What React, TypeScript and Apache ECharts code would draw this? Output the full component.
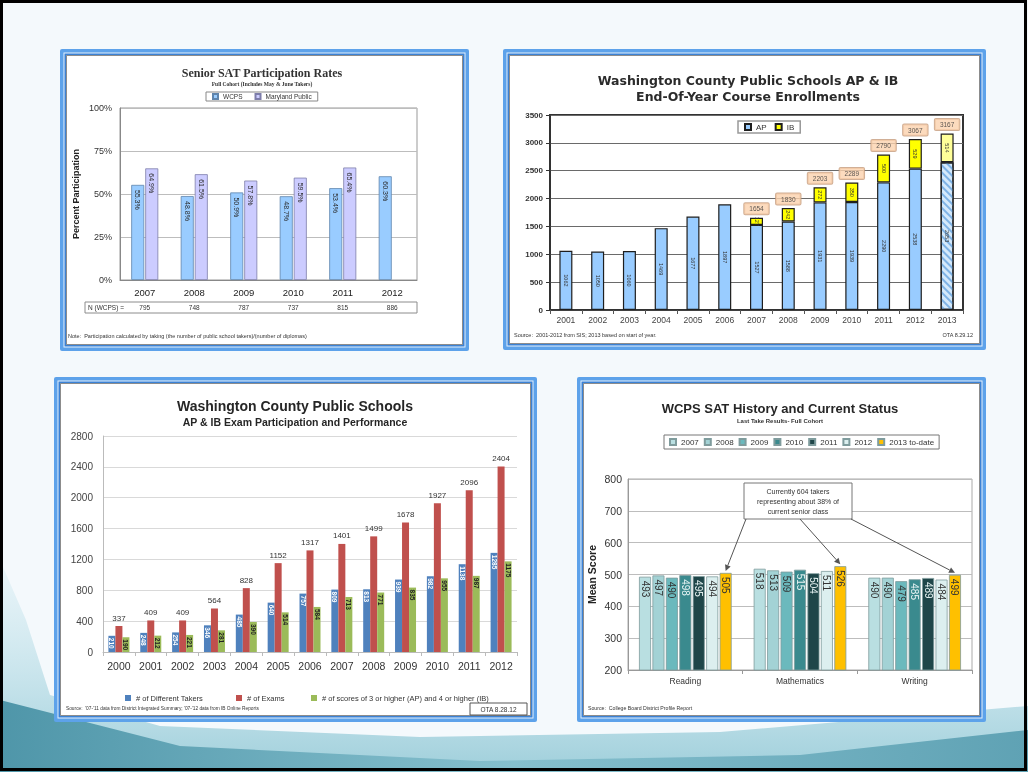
import React, { useEffect, useRef } from "react";
import * as echarts from "echarts";

// ---------- Chart 1: Senior SAT Participation Rates ----------
const satYears = ["2007", "2008", "2009", "2010", "2011", "2012"];
const wcpsRate = [55.3, 48.8, 50.9, 48.7, 53.4, 60.3];
const mdRate = [64.9, 61.5, 57.8, 59.5, 65.4, null];
const nWcps = ["795", "748", "787", "737", "815", "886"];

// ---------- Chart 2: AP & IB End-Of-Year Course Enrollments ----------
const enrYears = ["2001", "2002", "2003", "2004", "2005", "2006", "2007", "2008", "2009", "2010", "2011", "2012", "2013"];
const apEnr = [1062, 1050, 1060, 1469, 1677, 1897, 1527, 1588, 1931, 1939, 2290, 2538, 2653];
const ibEnr = [null, null, null, null, null, null, 127, 242, 272, 350, 500, 529, 514];
const totalEnr = [null, null, null, null, null, null, 1654, 1830, 2203, 2289, 2790, 3067, 3167];

// ---------- Chart 3: AP & IB Exam Participation and Performance ----------
const examYears = ["2000", "2001", "2002", "2003", "2004", "2005", "2006", "2007", "2008", "2009", "2010", "2011", "2012"];
const takers = [210, 248, 254, 346, 485, 640, 757, 809, 813, 939, 982, 1138, 1285];
const exams = [337, 409, 409, 564, 828, 1152, 1317, 1401, 1499, 1678, 1927, 2096, 2404];
const scores = [190, 212, 221, 281, 390, 514, 584, 713, 771, 835, 955, 987, 1175];

// ---------- Chart 4: WCPS SAT History and Current Status ----------
const subjects = ["Reading", "Mathematics", "Writing"];
const satSeriesNames = ["2007", "2008", "2009", "2010", "2011", "2012", "2013 to-date"];
const sat2007 = [493, 518, 490];
const sat2008 = [497, 513, 490];
const sat2009 = [490, 509, 479];
const sat2010 = [498, 515, 485];
const sat2011 = [495, 504, 489];
const sat2012 = [494, 511, 484];
const sat2013 = [505, 526, 499];
const satColors = ["#b9dfe1", "#a3d2d5", "#6bb9bd", "#3a8a8e", "#1f4649", "#dcefef", "#ffc000"];
const satLabelColors = ["#333", "#333", "#333", "#e8f4f4", "#e8f4f4", "#333", "#333"];

const FONT = '"Liberation Sans", Arial, sans-serif';
const SERIF = '"Liberation Serif", "Times New Roman", serif';
const VERD = '"DejaVu Sans", Verdana, sans-serif';

const plain = (v: number) => String(v);

function txt(text: string, x: number, y: number, size: number, o: any = {}) {
  const align = o.align || "center";
  return {
    type: "text",
    z: 50,
    style: {
      text,
      x,
      y,
      fontSize: size,
      fontFamily: o.family || FONT,
      fontWeight: o.weight || "normal",
      fill: o.color || "#222",
      align,
      textAlign: align,
      verticalAlign: "middle",
      textVerticalAlign: "middle",
    },
  };
}

function panel(x: number, y: number, w: number, h: number) {
  return [
    { type: "rect", z: -9, shape: { x, y, width: w, height: h, r: 2 }, style: { fill: "#5da2ea" } },
    { type: "rect", z: -8, shape: { x: x + 3.5, y: y + 3.5, width: w - 7, height: h - 7 }, style: { fill: "#e6f1fc" } },
    { type: "rect", z: -7, shape: { x: x + 4.5, y: y + 4.5, width: w - 9, height: h - 9 }, style: { fill: "#3b82d5" } },
    {
      type: "rect",
      z: -6,
      shape: { x: x + 6.5, y: y + 6.5, width: w - 13, height: h - 13 },
      style: { fill: "#ffffff", stroke: "#8c8c8c", lineWidth: 1 },
    },
  ];
}

function arrow(x1: number, y1: number, x2: number, y2: number) {
  const a = Math.atan2(y2 - y1, x2 - x1);
  const L = 6;
  const W = 3;
  const bx = x2 - L * Math.cos(a);
  const by = y2 - L * Math.sin(a);
  const px = -Math.sin(a) * W;
  const py = Math.cos(a) * W;
  return [
    { type: "line", z: 40, shape: { x1, y1, x2: bx, y2: by }, style: { stroke: "#555", lineWidth: 1 } },
    {
      type: "polygon",
      z: 40,
      shape: { points: [[x2, y2], [bx + px, by + py], [bx - px, by - py]] },
      style: { fill: "#555" },
    },
  ];
}

function baseGraphics() {
  const g: any[] = [];
  // slide background
  g.push({ type: "rect", z: -20, shape: { x: 0, y: 0, width: 1028, height: 772 }, style: { fill: "#f4f9fc" } });
  g.push({
    type: "polygon",
    z: -19,
    shape: {
      points: [[0, 560], [26, 620], [50, 695], [160, 726], [420, 737], [720, 732], [1028, 706], [1028, 772], [0, 772]],
    },
    style: {
      fill: new echarts.graphic.LinearGradient(0, 0, 0, 1, [
        { offset: 0, color: "rgba(200,230,238,0.25)" },
        { offset: 1, color: "#9fcfdb" },
      ]),
    },
  });
  g.push({
    type: "polygon",
    z: -18,
    shape: {
      points: [[0, 700], [180, 746], [480, 761], [800, 755], [1028, 730], [1028, 772], [0, 772]],
    },
    style: {
      fill: new echarts.graphic.LinearGradient(0, 0, 1, 0, [
        { offset: 0, color: "#4f96a9" },
        { offset: 0.5, color: "#86c0ce" },
        { offset: 1, color: "#5fa2b4" },
      ]),
    },
  });
  // panels
  g.push(...panel(60, 49, 409, 302));
  g.push(...panel(503, 49, 483, 301));
  g.push(...panel(54, 377, 483, 345));
  g.push(...panel(577, 377, 409, 345));

  // chart 1 texts
  g.push(txt("Senior SAT Participation Rates", 262, 73, 12, { family: SERIF, weight: "bold", color: "#333" }));
  g.push(txt("Full Cohort (Includes May & June Takers)", 262, 83.5, 5.5, { family: SERIF, weight: "bold", color: "#333" }));
  g.push({
    type: "rect",
    z: -5,
    shape: { x: 85, y: 302, width: 332, height: 11 },
    style: { fill: "#fff", stroke: "#8c8c8c", lineWidth: 1 },
  });
  g.push(txt("N (WCPS) =", 88, 307.5, 6.5, { align: "left", color: "#333" }));
  g.push(
    txt("Note:  Participation calculated by taking (the number of public school takers)/(number of diplomas)", 68, 336, 5.5, {
      align: "left",
      color: "#333",
    })
  );

  // chart 2 texts
  g.push(txt("Washington County Public Schools AP & IB", 748, 80, 12.5, { family: VERD, weight: "bold", color: "#2b2b2b" }));
  g.push(txt("End-Of-Year Course Enrollments", 748, 96, 12.5, { family: VERD, weight: "bold", color: "#2b2b2b" }));
  g.push(txt("Source:  2001-2012 from SIS; 2013 based on start of year.", 514, 335, 5.5, { align: "left", color: "#333" }));
  g.push(txt("OTA 8.29.12", 973, 335, 5.5, { align: "right", color: "#333" }));

  // chart 3 texts
  g.push(txt("Washington County Public Schools", 295, 406, 14, { weight: "bold", color: "#262626" }));
  g.push(txt("AP & IB Exam Participation and Performance", 295, 422, 10.5, { weight: "bold", color: "#262626" }));
  g.push(
    txt("Source:  '07-'11 data from District Integrated Summary; '07-'12 data from IB Online Reports", 66, 708, 4.8, {
      align: "left",
      color: "#333",
    })
  );
  g.push({
    type: "rect",
    z: 30,
    shape: { x: 470, y: 703, width: 57, height: 12 },
    style: { fill: "#fff", stroke: "#555", lineWidth: 1 },
  });
  g.push(txt("OTA 8.28.12", 498.5, 709, 6.5, { color: "#333" }));

  // chart 4 texts
  g.push(txt("WCPS SAT History and Current Status", 780, 408, 13, { weight: "bold", color: "#262626", family: '"Liberation Sans Narrow", "Liberation Sans", Arial' }));
  g.push(txt("Last Take Results- Full Cohort", 780, 421, 6, { weight: "bold", color: "#333" }));
  g.push({
    type: "rect",
    z: 30,
    shape: { x: 744, y: 483, width: 108, height: 36 },
    style: { fill: "#fff", stroke: "#777", lineWidth: 1 },
  });
  g.push(txt("Currently 604 takers", 798, 491, 7, { color: "#333" }));
  g.push(txt("representing about 38% of", 798, 501, 7, { color: "#333" }));
  g.push(txt("current senior class", 798, 511, 7, { color: "#333" }));
  g.push(txt("Source:  College Board District Profile Report", 588, 708, 5.2, { align: "left", color: "#333" }));

  // black frame
  g.push({
    type: "rect",
    z: 100,
    shape: { x: 1.5, y: 1.5, width: 1024, height: 768 },
    style: { fill: "none", stroke: "#000", lineWidth: 3 },
  });
  return g;
}

function buildOption() {
  const axisFont = { fontFamily: FONT };
  const satData = [sat2007, sat2008, sat2009, sat2010, sat2011, sat2012, sat2013];

  const series: any[] = [
    // chart 1
    {
      type: "bar",
      name: "WCPS",
      xAxisIndex: 0,
      yAxisIndex: 0,
      data: wcpsRate,
      barWidth: 13,
      barGap: "8%",
      itemStyle: { color: "#99ccff", borderColor: "#5f85ad", borderWidth: 0.8 },
      label: {
        show: true,
        position: "insideTop",
        rotate: -90,
        align: "left",
        verticalAlign: "middle",
        distance: 5,
        fontSize: 7,
        color: "#2a2a2a",
        formatter: (p: any) => (p.value == null ? "" : Number(p.value).toFixed(1) + "%"),
      },
    },
    {
      type: "bar",
      name: "Maryland Public",
      xAxisIndex: 0,
      yAxisIndex: 0,
      data: mdRate,
      barWidth: 13,
      barGap: "8%",
      itemStyle: { color: "#ccccff", borderColor: "#7d7daa", borderWidth: 0.8 },
      label: {
        show: true,
        position: "insideTop",
        rotate: -90,
        align: "left",
        verticalAlign: "middle",
        distance: 5,
        fontSize: 7,
        color: "#2a2a2a",
        formatter: (p: any) => (p.value == null ? "" : Number(p.value).toFixed(1) + "%"),
      },
    },
    // chart 2
    {
      type: "bar",
      name: "AP",
      stack: "enr",
      xAxisIndex: 2,
      yAxisIndex: 1,
      barWidth: 13,
      data: apEnr.map((v, i) =>
        i === apEnr.length - 1
          ? {
              value: v,
              itemStyle: {
                color: "#d4e9fb",
                decal: {
                  symbol: "rect",
                  symbolSize: 1,
                  dashArrayX: [1, 0],
                  dashArrayY: [1.5, 2.5],
                  rotation: Math.PI / 4,
                  color: "#7fb3e6",
                },
              },
            }
          : v
      ),
      itemStyle: { color: "#99ccff", borderColor: "#1e1e1e", borderWidth: 1.2 },
      label: {
        show: true,
        position: "inside",
        rotate: -90,
        align: "center",
        verticalAlign: "middle",
        fontSize: 5.5,
        color: "#333",
      },
    },
    {
      type: "bar",
      name: "IB",
      stack: "enr",
      xAxisIndex: 2,
      yAxisIndex: 1,
      barWidth: 13,
      data: ibEnr.map((v, i) => (i === ibEnr.length - 1 && v != null ? { value: v, itemStyle: { color: "#ffff99" } } : v)),
      itemStyle: { color: "#ffff00", borderColor: "#1e1e1e", borderWidth: 1.2 },
      label: {
        show: true,
        position: "inside",
        rotate: -90,
        align: "center",
        verticalAlign: "middle",
        fontSize: 5.5,
        color: "#333",
      },
    },
    {
      type: "scatter",
      name: "Total",
      xAxisIndex: 2,
      yAxisIndex: 1,
      data: totalEnr,
      symbolSize: 1,
      itemStyle: { color: "transparent" },
      z: 6,
      label: {
        show: true,
        position: "top",
        distance: 3,
        fontSize: 6.5,
        color: "#333",
        backgroundColor: "#fbd2ae",
        borderColor: "#c59b7c",
        borderWidth: 1,
        borderRadius: 1,
        padding: [2, 5],
      },
    },
    // chart 3
    {
      type: "bar",
      name: "# of Different Takers",
      xAxisIndex: 3,
      yAxisIndex: 2,
      data: takers,
      barWidth: 7,
      barGap: "0%",
      itemStyle: { color: "#4f81bd" },
      label: {
        show: true,
        position: "insideTop",
        rotate: -90,
        align: "left",
        verticalAlign: "middle",
        distance: 2,
        fontSize: 6.5,
        fontWeight: "bold",
        color: "#ffffff",
      },
    },
    {
      type: "bar",
      name: "# of Exams",
      xAxisIndex: 3,
      yAxisIndex: 2,
      data: exams,
      barWidth: 7,
      barGap: "0%",
      itemStyle: { color: "#c0504d" },
      label: { show: true, position: "top", distance: 4, fontSize: 8, color: "#333" },
    },
    {
      type: "bar",
      name: "# of scores of 3 or higher (AP) and 4 or higher (IB)",
      xAxisIndex: 3,
      yAxisIndex: 2,
      data: scores,
      barWidth: 7,
      barGap: "0%",
      itemStyle: { color: "#9bbb59" },
      label: {
        show: true,
        position: "insideTop",
        rotate: -90,
        align: "left",
        verticalAlign: "middle",
        distance: 2,
        fontSize: 6.5,
        fontWeight: "bold",
        color: "#222",
      },
    },
  ];

  satSeriesNames.forEach((nm, k) => {
    series.push({
      type: "bar",
      name: nm,
      xAxisIndex: 4,
      yAxisIndex: 3,
      data: satData[k],
      barWidth: 12,
      barGap: "12%",
      itemStyle: { color: satColors[k], borderColor: "#7f9c9d", borderWidth: 0.8 },
      label: {
        show: true,
        position: "insideTop",
        rotate: -90,
        align: "left",
        verticalAlign: "middle",
        distance: 4,
        fontSize: 10,
        color: satLabelColors[k],
      },
    });
  });

  const legendBase = {
    icon: "rect",
    itemWidth: 6,
    itemHeight: 6,
    textStyle: { fontFamily: FONT, color: "#333" },
  };

  return {
    animation: false,
    textStyle: { fontFamily: FONT },
    grid: [
      { left: 120, top: 108, width: 297, height: 172, show: true, borderColor: "#999", borderWidth: 1 },
      { left: 550, top: 115, width: 413, height: 195, show: true, borderColor: "#333", borderWidth: 2 },
      { left: 103, top: 436, width: 414, height: 216 },
      { left: 628, top: 479, width: 344, height: 191, show: true, borderColor: "#aaa", borderWidth: 1 },
    ],
    xAxis: [
      {
        gridIndex: 0,
        type: "category",
        data: satYears,
        axisLine: { lineStyle: { color: "#888" } },
        axisTick: { show: false },
        axisLabel: { ...axisFont, fontSize: 9.5, color: "#222", margin: 7 },
      },
      {
        gridIndex: 0,
        type: "category",
        data: nWcps,
        position: "bottom",
        offset: 22,
        axisLine: { show: false },
        axisTick: { show: false },
        axisLabel: { ...axisFont, fontSize: 6.5, color: "#333", margin: 2 },
      },
      {
        gridIndex: 1,
        type: "category",
        data: enrYears,
        axisLine: { lineStyle: { color: "#333", width: 1.5 } },
        axisTick: { show: true, length: 4, lineStyle: { color: "#555" } },
        axisLabel: { ...axisFont, fontSize: 8.5, color: "#444", margin: 5 },
      },
      {
        gridIndex: 2,
        type: "category",
        data: examYears,
        axisLine: { lineStyle: { color: "#bbb" } },
        axisTick: { show: true, length: 4, lineStyle: { color: "#bbb" } },
        axisLabel: { ...axisFont, fontSize: 10.5, color: "#333", margin: 8 },
      },
      {
        gridIndex: 3,
        type: "category",
        data: subjects,
        axisLine: { lineStyle: { color: "#999" } },
        axisTick: { show: true, length: 4, lineStyle: { color: "#999" } },
        axisLabel: { ...axisFont, fontSize: 8.5, color: "#333", margin: 6 },
      },
    ],
    yAxis: [
      {
        gridIndex: 0,
        type: "value",
        min: 0,
        max: 100,
        interval: 25,
        axisLabel: { ...axisFont, formatter: "{value}%", fontSize: 9, color: "#333", margin: 8 },
        axisLine: { show: true, lineStyle: { color: "#888" } },
        splitLine: { lineStyle: { color: "#bdbdbd" } },
        name: "Percent Participation",
        nameLocation: "middle",
        nameGap: 40,
        nameTextStyle: { fontFamily: FONT, fontSize: 9, fontWeight: "bold", color: "#222" },
      },
      {
        gridIndex: 1,
        type: "value",
        min: 0,
        max: 3500,
        interval: 500,
        axisLabel: { ...axisFont, formatter: plain, fontSize: 8, fontWeight: "bold", color: "#333", margin: 7 },
        axisLine: { show: true, lineStyle: { color: "#333", width: 1.5 } },
        axisTick: { show: true, length: 4, lineStyle: { color: "#333" } },
        splitLine: { lineStyle: { color: "#6a6a6a", width: 1.2 } },
      },
      {
        gridIndex: 2,
        type: "value",
        min: 0,
        max: 2800,
        interval: 400,
        axisLabel: { ...axisFont, formatter: plain, fontSize: 10, color: "#444", margin: 10 },
        axisLine: { show: true, lineStyle: { color: "#bbb" } },
        splitLine: { lineStyle: { color: "#d9d9d9" } },
      },
      {
        gridIndex: 3,
        type: "value",
        min: 200,
        max: 800,
        interval: 100,
        axisLabel: { ...axisFont, formatter: plain, fontSize: 10.5, color: "#333", margin: 6 },
        axisLine: { show: true, lineStyle: { color: "#999" } },
        splitLine: { lineStyle: { color: "#bdbdbd" } },
        name: "Mean Score",
        nameLocation: "middle",
        nameGap: 31,
        nameTextStyle: { fontFamily: FONT, fontSize: 10.5, fontWeight: "bold", color: "#222" },
      },
    ],
    legend: [
      {
        ...legendBase,
        data: ["WCPS", "Maryland Public"],
        left: 206,
        top: 92,
        itemWidth: 5,
        itemHeight: 5,
        itemGap: 12,
        padding: [1, 6],
        borderColor: "#888",
        borderWidth: 1,
        textStyle: { fontFamily: FONT, color: "#333", fontSize: 6.5 },
      },
      {
        ...legendBase,
        data: ["AP", "IB"],
        left: 738,
        top: 121,
        itemGap: 8,
        padding: [2, 6],
        borderColor: "#999",
        borderWidth: 1.5,
        backgroundColor: "#fff",
        textStyle: { fontFamily: FONT, color: "#333", fontSize: 8 },
      },
      {
        ...legendBase,
        data: ["# of Different Takers"],
        left: 120,
        top: 689,
        textStyle: { fontFamily: FONT, color: "#333", fontSize: 7.5 },
      },
      {
        ...legendBase,
        data: ["# of Exams"],
        left: 231,
        top: 689,
        textStyle: { fontFamily: FONT, color: "#333", fontSize: 7.5 },
      },
      {
        ...legendBase,
        data: ["# of scores of 3 or higher (AP) and 4 or higher (IB)"],
        left: 306,
        top: 689,
        textStyle: { fontFamily: FONT, color: "#333", fontSize: 7.5 },
      },
      {
        ...legendBase,
        data: satSeriesNames,
        left: 664,
        top: 435,
        itemGap: 5,
        padding: [3, 5],
        borderColor: "#777",
        borderWidth: 1,
        backgroundColor: "#fff",
        textStyle: { fontFamily: FONT, color: "#333", fontSize: 8 },
      },
    ],
    series,
  };
}

export default function App() {
  const ref = useRef<HTMLDivElement>(null);
  useEffect(() => {
    if (!ref.current) return;
    const chart = echarts.init(ref.current, undefined, { renderer: "svg" });
    chart.setOption(buildOption() as any);

    // annotation arrows pointing at the "2013 to-date" bars
    const g = baseGraphics();
    const nBars = satSeriesNames.length;
    const bw = 12;
    const gap = bw * 0.12;
    const offset = (nBars - 1 - (nBars - 1) / 2) * (bw + gap);
    const starts = [
      [746, 519],
      [800, 519],
      [851, 519],
    ];
    subjects.forEach((s, i) => {
      const cx = chart.convertToPixel({ xAxisIndex: 4 } as any, s) as unknown as number;
      const cy = chart.convertToPixel({ yAxisIndex: 3 } as any, sat2013[i]) as unknown as number;
      g.push(...arrow(starts[i][0], starts[i][1], cx + offset, cy - 2));
    });
    chart.setOption({ graphic: g } as any);
    return () => chart.dispose();
  }, []);
  return <div ref={ref} style={{ position: "fixed", left: 0, top: 0, width: 1028, height: 772 }} />;
}
